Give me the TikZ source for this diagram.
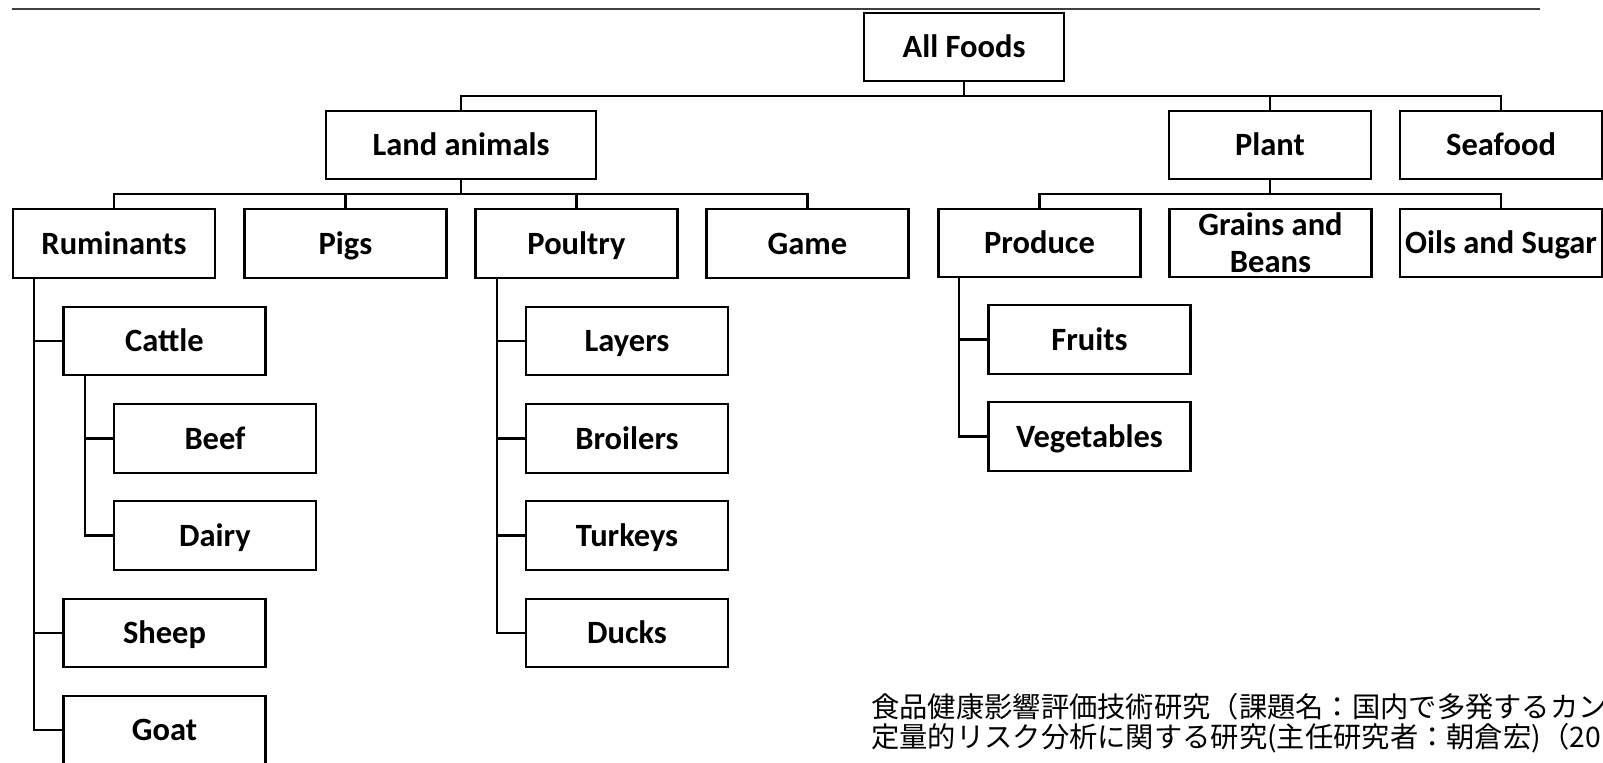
\documentclass[tikz,border=0pt]{standalone}
\usepackage{fontspec}
\setmainfont{Carlito}
\newfontfamily\jpfont{Noto Sans CJK JP}

\begin{document}
\begin{tikzpicture}[x=0.02cm, y=-0.02cm,
    box/.style={draw, line width=1.3pt, minimum width=4.04cm, minimum height=1.37cm,
      inner sep=0pt, text height=13pt, text depth=1pt, align=center,
      font=\fontsize{18.5}{21}\selectfont\bfseries},
    twoline/.style={text height={}, text depth={}},
    link/.style={line width=1.3pt}]
    \useasboundingbox (0,0) rectangle (1603,762);

    % 上の罫線
    \draw[line width=0.7pt, black!75] (12,9) -- (1540,9);

    % ノード
    \node[box, minimum width=4cm] (allfoods) at (964,47) {All Foods};
    \node[box, minimum width=5.4cm] (land) at (461,145) {Land animals};
    \node[box] (plant) at (1270,145) {Plant};
    \node[box] (seafood) at (1501,145) {Seafood};

    \node[box] (ruminants) at (114,243.5) {Ruminants};
    \node[box] (pigs) at (345.5,243.5) {Pigs};
    \node[box] (poultry) at (576.5,243.5) {Poultry};
    \node[box] (game) at (807.5,243.5) {Game};
    \node[box] (produce) at (1039.5,243) {Produce};
    \node[box, twoline] (grains) at (1270.5,243) {Grains and\\Beans};
    \node[box] (oils) at (1501,243) {Oils and Sugar};

    \node[box] (cattle) at (164.5,341) {Cattle};
    \node[box] (beef) at (215,438.5) {Beef};
    \node[box] (dairy) at (215,535.5) {Dairy};
    \node[box] (sheep) at (164.5,633) {Sheep};
    \node[box] (goat) at (164.5,730) {Goat};

    \node[box] (layers) at (627,341) {Layers};
    \node[box] (broilers) at (627,438.5) {Broilers};
    \node[box] (turkeys) at (627,535.5) {Turkeys};
    \node[box] (ducks) at (627,633) {Ducks};

    \node[box] (fruits) at (1089.5,339.5) {Fruits};
    \node[box] (vegetables) at (1089.5,436.5) {Vegetables};

    % 分岐点
    \coordinate (topbar) at (964,96);
    \coordinate (landbar) at (461,194);
    \coordinate (plantbar) at (1270,194);
    \coordinate (rumtrunk) at (34,278);
    \coordinate (cattrunk) at (85,375);
    \coordinate (poultrunk) at (497,278);
    \coordinate (prodtrunk) at (959,277);

    % エッジ
    \draw[link] (allfoods) -- (topbar);
    \draw[link] (land.north) |- (topbar) -| (seafood.north);
    \draw[link] (plant.north) -- (plant.north |- topbar);

    \draw[link] (land) -- (landbar);
    \draw[link] (ruminants.north) |- (landbar) -| (game.north);
    \draw[link] (pigs.north) -- (pigs.north |- landbar);
    \draw[link] (poultry.north) -- (poultry.north |- landbar);

    \draw[link] (plant) -- (plantbar);
    \draw[link] (produce.north) |- (plantbar) -| (oils.north);

    \draw[link] (rumtrunk) |- (goat.west);
    \draw[link] (cattle.west) -- (cattle.west -| rumtrunk);
    \draw[link] (sheep.west) -- (sheep.west -| rumtrunk);
    \draw[link] (cattrunk) |- (dairy.west);
    \draw[link] (beef.west) -- (beef.west -| cattrunk);

    \draw[link] (poultrunk) |- (ducks.west);
    \foreach \c in {layers,broilers,turkeys}
      \draw[link] (\c.west) -- (\c.west -| poultrunk);

    \draw[link] (prodtrunk) |- (vegetables.west);
    \draw[link] (fruits.west) -- (fruits.west -| prodtrunk);

    % 出典
    \node[anchor=north west, inner sep=0pt, align=left,
      font=\jpfont\fontsize{16.1}{17}\selectfont] (credit) at (871,693)
      {食品健康影響評価技術研究（課題名：国内で多発するカン\\
       定量的リスク分析に関する研究(主任研究者：朝倉宏)（20};
\end{tikzpicture}
\end{document}
